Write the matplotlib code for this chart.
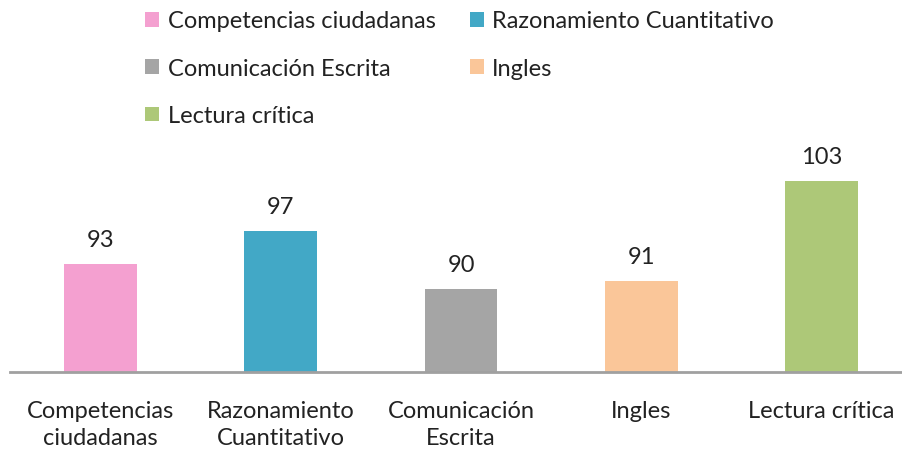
import matplotlib.pyplot as plt
from matplotlib.patches import Patch

# datos del grafico
categorias = ["Competencias\nciudadanas", "Razonamiento\nCuantitativo",
              "Comunicación\nEscrita", "Ingles", "Lectura crítica"]
leyenda = ["Competencias ciudadanas", "Razonamiento Cuantitativo",
           "Comunicación Escrita", "Ingles", "Lectura crítica"]
puntajes = [93, 97, 90, 91, 103]
colores = ["#F4A0D0", "#42A8C6", "#A5A5A5", "#FAC699", "#ADC878"]

plt.rcParams['font.family'] = ['Lato', 'DejaVu Sans']

W, H = 902, 456
fig = plt.figure(figsize=(W / 100, H / 100), dpi=100)

# eje: y=80 en el pixel 373, ~8.3 px por unidad
y0, y1 = 80, 110
px = 8.3
ax_h = (y1 - y0) * px
ax = fig.add_axes([10.4 / W, (H - 373) / H, 901.2 / W, ax_h / H])

x = range(len(puntajes))
barras = ax.bar(x, puntajes, width=0.405, color=colores)
ax.set_ylim(y0, y1)
ax.set_xlim(-0.5, len(puntajes) - 0.5)

for xi, v in zip(x, puntajes):
    ax.annotate(str(v), (xi, v), xytext=(0, 10), textcoords='offset points',
                ha='center', va='bottom', fontsize=17, color='#222222')

ax.set_xticks(list(x))
ax.set_xticklabels(categorias, fontsize=17, color='#222222', linespacing=1.35)
ax.tick_params(axis='x', length=0, pad=20)
ax.set_yticks([])
for s in ['top', 'left', 'right']:
    ax.spines[s].set_visible(False)
ax.spines['bottom'].set_color('#A0A0A0')
ax.spines['bottom'].set_linewidth(2)

# leyenda: se llena por columnas
orden = [0, 2, 4, 1, 3]
handles = [Patch(facecolor=colores[i], edgecolor='none') for i in orden]
labels = [leyenda[i] for i in orden]
fig.legend(handles, labels, ncol=2, loc='upper left',
           bbox_to_anchor=(131 / W, 1.006), frameon=False, fontsize=17,
           handlelength=0.6, handleheight=0.6, handletextpad=0.35,
           columnspacing=1.45, labelspacing=1.12, borderaxespad=0.2,
           labelcolor='#222222')

fig.savefig('out.png', dpi=100)
